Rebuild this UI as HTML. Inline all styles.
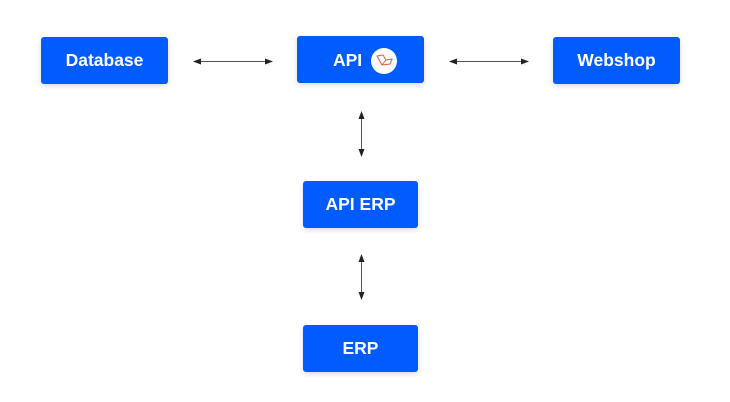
<!DOCTYPE html>
<html><head><style>
body{margin:0;width:730px;height:402px;background:#fff;position:relative;overflow:hidden;font-family:"Liberation Sans",sans-serif}
.b{position:absolute;background:#005cff;color:#fff;font-weight:bold;font-size:17.5px;display:flex;align-items:center;justify-content:center;border-radius:3px;box-shadow:0 2px 6px rgba(0,0,0,0.15)}
</style></head><body>
<div class="b" style="left:41px;top:37px;width:127px;height:47px">Database</div>
<div class="b" style="left:297px;top:36px;width:127px;height:47px"></div>
<div style="position:absolute;left:333px;top:49px;color:#fff;font-weight:bold;font-size:17.5px;line-height:22px">API</div>
<div style="position:absolute;left:371px;top:48px;width:26px;height:26px;border-radius:50%;background:#fff"></div>
<svg style="position:absolute;left:371px;top:48px" width="26" height="26"><path d="M6 8 L11 17 L19 16 L21 11 L15 12 L12 7 Z M11 17 L15 12" fill="none" stroke="#f05340" stroke-width="1"/></svg>
<div class="b" style="left:553px;top:37px;width:127px;height:47px">Webshop</div>
<div class="b" style="left:303px;top:181px;width:115px;height:47px">API ERP</div>
<div class="b" style="left:303px;top:325px;width:115px;height:47px">ERP</div>
<svg style="position:absolute;left:0;top:0" width="730" height="402">
<defs><marker id="a" markerWidth="8" markerHeight="6" refX="7" refY="3" orient="auto-start-reverse"><path d="M0 0L8 3L0 6Z" fill="#222"/></marker></defs>
<g stroke="#555" stroke-width="1" marker-start="url(#a)" marker-end="url(#a)">
<line x1="194" y1="61.5" x2="272" y2="61.5"/>
<line x1="450" y1="61.5" x2="528" y2="61.5"/>
<line x1="361.5" y1="112" x2="361.5" y2="156"/>
<line x1="361.5" y1="255" x2="361.5" y2="299"/>
</g></svg>
</body></html>
